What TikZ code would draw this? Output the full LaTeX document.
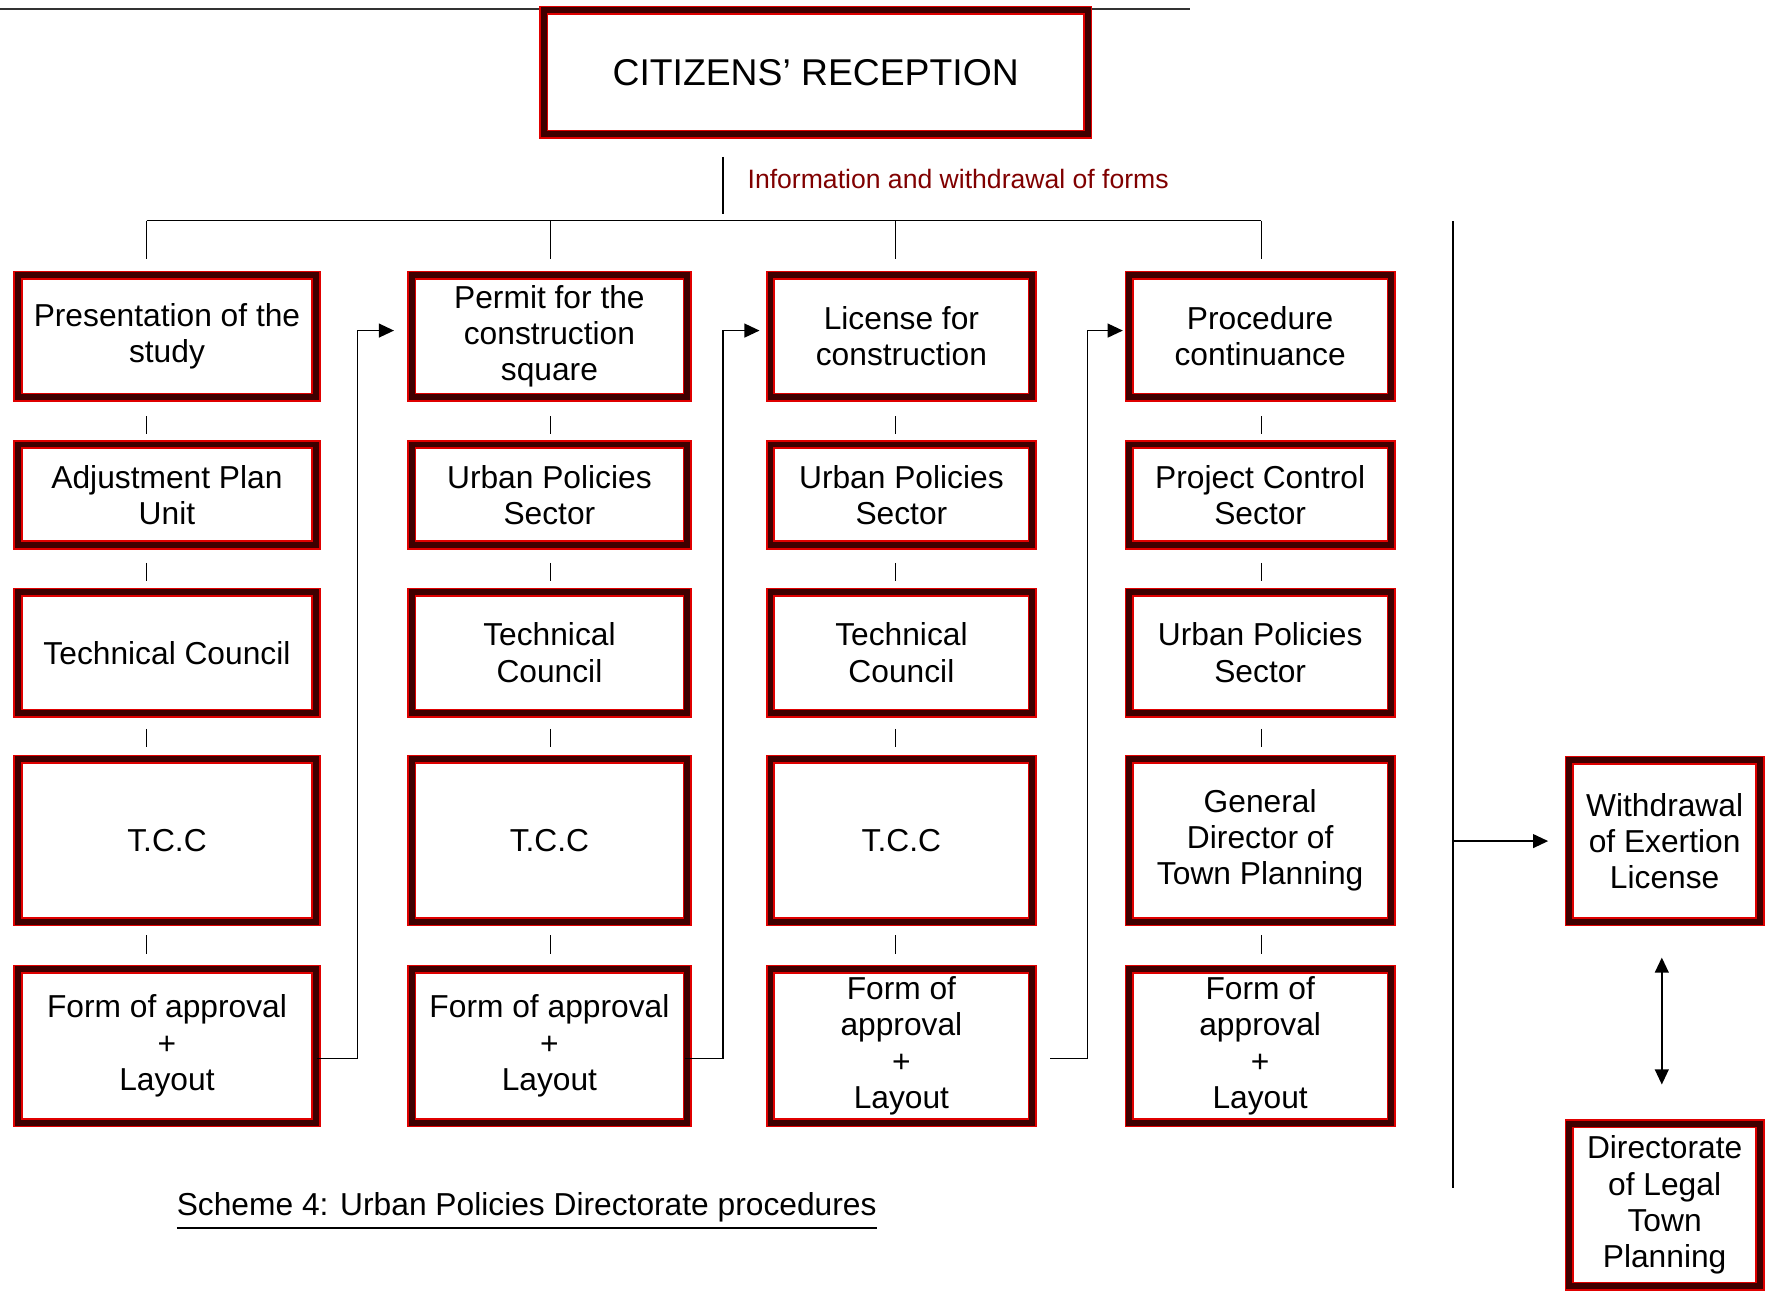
\documentclass[tikz,border=0pt]{standalone}
\usepackage{fontspec}
\setmainfont{Liberation Sans}
\usepackage{tikz}
\usetikzlibrary{arrows.meta}
\definecolor{boxdark}{HTML}{3F0000}
\definecolor{boxred}{HTML}{E00000}
\definecolor{infored}{HTML}{800000}
\tikzstyle{frame}=[draw=boxred,double=boxdark,double distance=1.5pt,line width=0.4pt,fill=white,align=center,inner sep=1pt,font=\fontsize{8}{9.1}\selectfont]
\tikzstyle{link}=[line width=0.35pt]
\tikzstyle{tip}=[-{Triangle[length=3.8pt,width=3.5pt]}]

\begin{document}
\begin{tikzpicture}[x=0.01cm,y=-0.01cm]
        \useasboundingbox (0,0) rectangle (1568,1144);
        \draw[line width=0.3pt,black!80] (0,8) -- (1055,8);
        \node[frame,minimum width=4.82cm,minimum height=1.10cm,font=\fontsize{9.4}{11}\selectfont] (cr) at (723,64) {CITIZENS’ RECEPTION};
        \node[anchor=west,inner sep=0pt,text=infored,font=\fontsize{6.7}{8}\selectfont] (info) at (662,159) {Information and withdrawal of forms};
        % first column
        \node[frame,minimum width=2.64cm,minimum height=1.08cm] (a1) at (148,298) {Presentation of the\\study};
        \node[frame,minimum width=2.64cm,minimum height=0.89cm] (a2) at (148,438.5) {Adjustment Plan\\Unit};
        \node[frame,minimum width=2.64cm,minimum height=1.07cm] (a3) at (148,578.5) {Technical Council};
        \node[frame,minimum width=2.64cm,minimum height=1.44cm] (a4) at (148,745) {T.C.C};
        \node[frame,minimum width=2.64cm,minimum height=1.36cm] (a5) at (148,927) {Form of approval\\+\\Layout};
        % second column
        \node[frame,minimum width=2.44cm,minimum height=1.08cm] (b1) at (487,298) {Permit for the\\construction\\square};
        \node[frame,minimum width=2.44cm,minimum height=0.89cm] (b2) at (487,438.5) {Urban Policies\\Sector};
        \node[frame,minimum width=2.44cm,minimum height=1.07cm] (b3) at (487,578.5) {Technical\\Council};
        \node[frame,minimum width=2.44cm,minimum height=1.44cm] (b4) at (487,745) {T.C.C};
        \node[frame,minimum width=2.44cm,minimum height=1.36cm] (b5) at (487,927) {Form of approval\\+\\Layout};
        % third column
        \node[frame,minimum width=2.32cm,minimum height=1.08cm] (c1) at (799,298) {License for\\construction};
        \node[frame,minimum width=2.32cm,minimum height=0.89cm] (c2) at (799,438.5) {Urban Policies\\Sector};
        \node[frame,minimum width=2.32cm,minimum height=1.07cm] (c3) at (799,578.5) {Technical\\Council};
        \node[frame,minimum width=2.32cm,minimum height=1.44cm] (c4) at (799,745) {T.C.C};
        \node[frame,minimum width=2.32cm,minimum height=1.36cm] (c5) at (799,927) {Form of\\approval\\+\\Layout};
        % fourth column
        \node[frame,minimum width=2.32cm,minimum height=1.08cm] (d1) at (1117,298) {Procedure\\continuance};
        \node[frame,minimum width=2.32cm,minimum height=0.89cm] (d2) at (1117,438.5) {Project Control\\Sector};
        \node[frame,minimum width=2.32cm,minimum height=1.07cm] (d3) at (1117,578.5) {Urban Policies\\Sector};
        \node[frame,minimum width=2.32cm,minimum height=1.44cm] (d4) at (1117,745) {General\\Director of\\Town Planning};
        \node[frame,minimum width=2.32cm,minimum height=1.36cm] (d5) at (1117,927) {Form of\\approval\\+\\Layout};
        % right side
        \node[frame,minimum width=1.69cm,minimum height=1.43cm] (wd) at (1475.5,745.5) {Withdrawal\\of Exertion\\License};
        \node[frame,minimum width=1.69cm,minimum height=1.44cm] (dt) at (1475.5,1068) {Directorate\\of Legal\\Town\\Planning};
        \node[anchor=west,inner sep=0pt,font=\fontsize{8}{9.1}\selectfont] (cap) at (156,1074) {\underline{Scheme 4: Urban Policies Directorate procedures}};
        % connectors
        \draw[link] (641,139) -- (641,190);
        \draw[link] (130,195.5) -- (1118,195.5);
        \foreach \x in {130,488,794,1118}{
          \draw[link] (\x,195.5) -- (\x,230);
          \foreach \ya/\yb in {369/385,499/515,646/662,829/846}
            \draw[link] (\x,\ya) -- (\x,\yb);
        }
        \draw[link,tip,shorten >=0.15cm] ([yshift=-0.11cm]a5.east) -- ++(36,0) |- ([yshift=0.05cm]b1.west);
        \draw[link,tip,shorten >=0.09cm] ([xshift=-0.03cm,yshift=-0.11cm]b5.east) -- ++(34,0) |- ([yshift=0.05cm]c1.west);
        \draw[link,tip,shorten >=0.05cm] ([xshift=0.15cm,yshift=-0.11cm]c5.east) -- ++(33,0) |- ([yshift=0.05cm]d1.west);
        \draw[link] (1288,196) -- (1288,1053);
        \coordinate (rail) at (1288,745.5);
        \draw[link,tip,shorten >=0.18cm] (rail) -- (wd.west);
        \draw[link,{Triangle[length=3.8pt,width=3.5pt]}-{Triangle[length=3.8pt,width=3.5pt]},shorten <=0.31cm,shorten >=0.34cm] ([xshift=-0.025cm]wd.south) -- ([xshift=-0.025cm]dt.north);
      \end{tikzpicture}
\end{document}
